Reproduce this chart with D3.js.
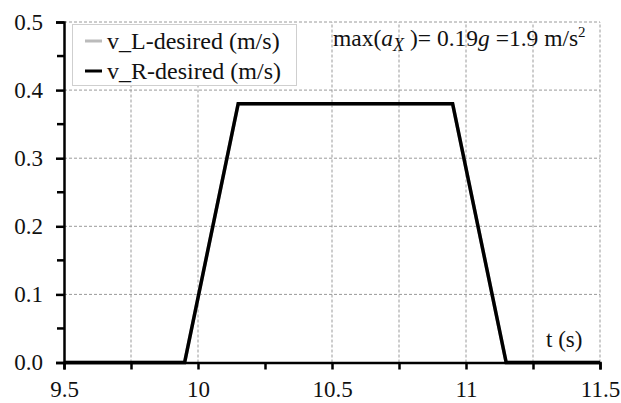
<!DOCTYPE html>
<html>
<head>
<meta charset="utf-8">
<script src="https://cdn.jsdelivr.net/npm/d3@7"></script>
<style>
	body { margin: 0; background: #fff; }
</style>
</head>
<body>
<div id="chart"></div>
<script>
// time (s) and wheel speed setpoints (m/s)
var timeS = [9.5, 9.95, 10.15, 10.95, 11.15, 11.5];
var vLeft = [0, 0, 0.38, 0.38, 0, 0];
var vRight = [0, 0, 0.38, 0.38, 0, 0];

var xTicks = [9.5, 10, 10.5, 11, 11.5];
var xMinor = [9.75, 10.25, 10.75, 11.25];
var xGrid = [9.75, 10, 10.5, 10.75, 11, 11.25, 11.5];
var yTicks = [0, 0.1, 0.2, 0.3, 0.4, 0.5];
var yMinor = [0.05, 0.15, 0.25, 0.35, 0.45];
var seriesNames = ["v_L-desired (m/s)", "v_R-desired (m/s)"];

var FONT = "'Liberation Serif', 'DejaVu Serif', serif";
var W = 621, H = 403;
var svg = d3.select('#chart').append('svg').attr('width', W).attr('height', H)
	.attr('font-family', FONT);

var x = d3.scaleLinear().domain([9.5, 11.5]).range([64, 600]);
var y = d3.scaleLinear().domain([0, 0.5]).range([362.5, 22]);

// grid
var grid = svg.append('g').attr('stroke', '#9a9a9a').attr('stroke-width', 1).attr('stroke-dasharray', '3,2');
grid.selectAll('line.h').data(yTicks.slice(1)).enter().append('line')
	.attr('x1', x(9.5)).attr('x2', x(11.5))
	.attr('y1', function(d) { return y(d); }).attr('y2', function(d) { return y(d); });
grid.selectAll('line.v').data(xGrid).enter().append('line')
	.attr('x1', function(d) { return x(d); }).attr('x2', function(d) { return x(d); })
	.attr('y1', y(0)).attr('y2', y(0.5));

// data lines
var pts = function(vals) { return timeS.map(function(t, i) { return [t, vals[i]]; }); };
var line = d3.line().x(function(d) { return x(d[0]); }).y(function(d) { return y(d[1]); });
svg.append('path').datum(pts(vLeft)).attr('d', line)
	.attr('fill', 'none').attr('stroke', '#bbbbbb').attr('stroke-width', 3.5);
svg.append('path').datum(pts(vRight)).attr('d', line)
	.attr('fill', 'none').attr('stroke', '#000').attr('stroke-width', 3.5).attr('stroke-linejoin', 'miter');

// axes
var xAxis = svg.append('g').attr('transform', 'translate(0,' + y(0) + ')')
	.call(d3.axisBottom(x).tickValues(xTicks.concat(xMinor)).tickSize(7).tickFormat(function(d) {
		return xTicks.indexOf(d) >= 0 ? d3.format('')(d) : '';
	}));
xAxis.attr('font-family', FONT);
xAxis.select('.domain').attr('stroke', '#000').attr('stroke-width', 2.5);
xAxis.selectAll('.tick line').attr('stroke-width', 2.5);
xAxis.selectAll('.tick text').attr('font-size', 23).attr('y', 34).attr('dy', null).attr('fill', '#111');

var yAxis = svg.append('g').attr('transform', 'translate(' + x(9.5) + ',0)')
	.call(d3.axisLeft(y).tickValues(yTicks).tickSize(8).tickFormat(d3.format('.1f')));
yAxis.attr('font-family', FONT);
yAxis.select('.domain').attr('stroke', '#000').attr('stroke-width', 2.5);
yAxis.selectAll('.tick line').attr('stroke-width', 2.5);
yAxis.selectAll('.tick text').attr('font-size', 23).attr('x', -21).attr('fill', '#111');
svg.append('g').selectAll('line').data(yMinor).enter().append('line')
	.attr('x1', x(9.5) - 7).attr('x2', x(9.5))
	.attr('y1', function(d) { return y(d); }).attr('y2', function(d) { return y(d); })
	.attr('stroke', '#000').attr('stroke-width', 2.5);

// legend
var leg = svg.append('g');
leg.append('rect').attr('x', 72.5).attr('y', 24.5).attr('width', 224).attr('height', 61)
	.attr('fill', '#fff').attr('stroke', '#cfcfcf');
var legColors = ['#bbbbbb', '#000'];
seriesNames.forEach(function(name, i) {
	var cy = 41 + i * 30;
	leg.append('line').attr('x1', 85).attr('x2', 102).attr('y1', cy).attr('y2', cy)
		.attr('stroke', legColors[i]).attr('stroke-width', 3);
	leg.append('text').attr('x', 107).attr('y', cy + 8).attr('font-size', 24).attr('fill', '#111').text(name);
});

// annotation
var ann = svg.append('text').attr('x', 333).attr('y', 46).attr('font-size', 23.5).attr('fill', '#111');
ann.append('tspan').text('max(');
ann.append('tspan').attr('font-style', 'italic').text('a');
ann.append('tspan').attr('font-style', 'italic').attr('font-size', 18).attr('dy', 5).text('X');
ann.append('tspan').attr('dy', -5).text(' )= 0.19');
ann.append('tspan').attr('font-style', 'italic').text('g');
ann.append('tspan').text(' =1.9 m/s');
ann.append('tspan').attr('font-size', 15).attr('dy', -9).text('2');

svg.append('text').attr('x', 546).attr('y', 347).attr('font-size', 23).attr('fill', '#111').text('t (s)');
</script>
</body>
</html>
